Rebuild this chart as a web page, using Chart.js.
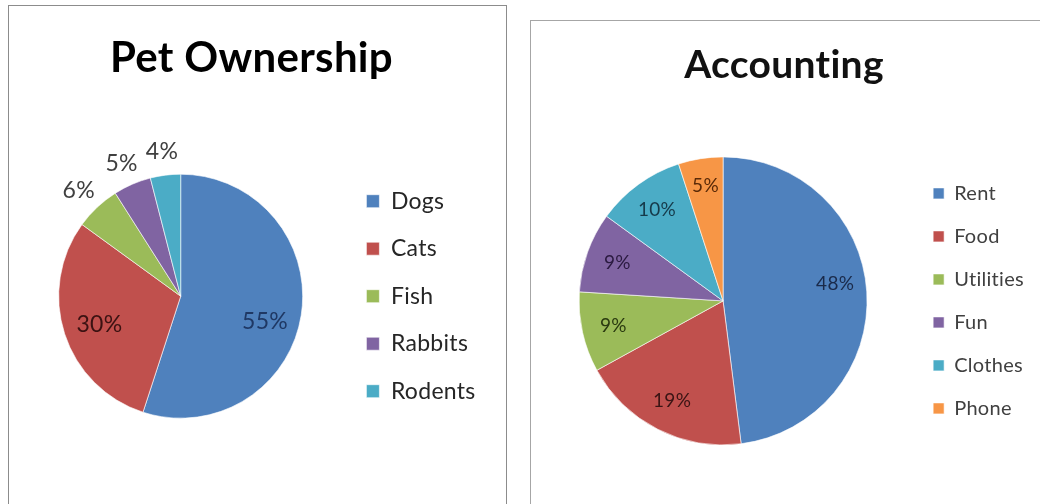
<!DOCTYPE html>
<html>
<head>
<meta charset="utf-8">
<script src="https://cdn.jsdelivr.net/npm/chart.js@4.4.1/dist/chart.umd.min.js"></script>
<style>
  body { margin: 0; width: 1040px; height: 504px; overflow: hidden; background: #fff; }
  .panel { position: absolute; border: 1px solid #8c8c8c; background: #fff; }
  #petPanel { left: 8px; top: 5px; width: 497px; height: 520px; }
  #accPanel { left: 530px; top: 20px; width: 540px; height: 520px; border-color: #a6a6a6; }
  canvas { position: absolute; left: 0; top: 0; }
</style>
</head>
<body>
<div class="panel" id="petPanel"><canvas id="petChart" width="496" height="498"></canvas></div>
<div class="panel" id="accPanel"><canvas id="accChart" width="509" height="483"></canvas></div>
<script>
// Pet Ownership
const petLabels = ['Dogs', 'Cats', 'Fish', 'Rabbits', 'Rodents'];
const petValues = [55, 30, 6, 5, 4];

// Accounting
const accLabels = ['Rent', 'Food', 'Utilities', 'Fun', 'Clothes', 'Phone'];
const accValues = [48, 19, 9, 9, 10, 5];

const OFFICE = {
    blue: '#4f81bd',
    red: '#c0504d',
    green: '#9bbb59',
    purple: '#8064a2',
    aqua: '#4bacc6',
    orange: '#f79646'
};

// tiny letter spacing keeps Lato from joining "ti" into a ligature
const noLigatures = {
    id: 'noLigatures',
    beforeInit(chart) { chart.ctx.letterSpacing = '0.3px'; },
    beforeDraw(chart) { chart.ctx.letterSpacing = '0.3px'; }
};

// draws the "NN%" labels, small slices go outside the pie
const pctLabels = {
    id: 'pctLabels',
    afterDatasetsDraw(chart, args, opts) {
        const ctx = chart.ctx;
        const values = chart.data.datasets[0].data;
        chart.getDatasetMeta(0).data.forEach((arc, i) => {
            const p = arc.getProps(['x', 'y', 'startAngle', 'endAngle', 'outerRadius'], true);
            const mid = (p.startAngle + p.endAngle) / 2;
            const outside = values[i] < opts.outsideBelow;
            const r = p.outerRadius * (outside ? opts.outerFactor : opts.innerFactor);
            ctx.save();
            ctx.font = opts.fontSize + 'px Lato';
            ctx.fillStyle = outside ? opts.outerColor : opts.colors[i];
            ctx.textAlign = 'center';
            ctx.textBaseline = 'middle';
            ctx.fillText(values[i] + '%', p.x + Math.cos(mid) * r, p.y + Math.sin(mid) * r + (opts.nudgeY[i] || 0));
            ctx.restore();
        });
    }
};

new Chart(document.getElementById('petChart'), {
    type: 'pie',
    data: {
        labels: petLabels,
        datasets: [{
            data: petValues,
            backgroundColor: [OFFICE.blue, OFFICE.red, OFFICE.green, OFFICE.purple, OFFICE.aqua],
            borderColor: 'rgba(255,255,255,0.6)',
            borderWidth: 1
        }]
    },
    options: {
        responsive: false,
        animation: false,
        radius: 122,
        layout: { padding: { left: 10.5, right: 21.5 } },
        plugins: {
            title: {
                display: true,
                text: 'Pet Ownership',
                color: '#000',
                font: { family: 'Lato', size: 42, weight: 'bold' },
                padding: { top: 27, bottom: 5 }
            },
            legend: {
                position: 'right',
                fullSize: false,
                labels: {
                    color: '#262626',
                    font: { family: 'Lato', size: 23 },
                    boxWidth: 13,
                    boxHeight: 13,
                    padding: 24.5
                }
            },
            tooltip: { enabled: false },
            pctLabels: {
                fontSize: 23,
                outsideBelow: 10,
                innerFactor: 0.7,
                outerFactor: 1.22,
                outerColor: '#404040',
                colors: ['#1f3864', '#3b1212'],
                nudgeY: [12, 2, 3, 4, 3]
            }
        }
    },
    plugins: [noLigatures, pctLabels]
});

new Chart(document.getElementById('accChart'), {
    type: 'pie',
    data: {
        labels: accLabels,
        datasets: [{
            data: accValues,
            backgroundColor: [OFFICE.blue, OFFICE.red, OFFICE.green, OFFICE.purple, OFFICE.aqua, OFFICE.orange],
            borderColor: 'rgba(255,255,255,0.6)',
            borderWidth: 1
        }]
    },
    options: {
        responsive: false,
        animation: false,
        radius: 144,
        layout: { padding: { left: 5, right: 8 } },
        plugins: {
            title: {
                display: true,
                text: 'Accounting',
                color: '#111',
                font: { family: 'Lato', size: 39, weight: 'bold' },
                padding: { top: 21, bottom: 9 }
            },
            legend: {
                position: 'right',
                fullSize: false,
                labels: {
                    color: '#404040',
                    font: { family: 'Lato', size: 20 },
                    boxWidth: 11,
                    boxHeight: 11,
                    padding: 23
                }
            },
            tooltip: { enabled: false },
            pctLabels: {
                fontSize: 19,
                outsideBelow: 0,
                innerFactor: 0.78,
                outerFactor: 1.2,
                outerColor: '#404040',
                colors: ['#1a2a4a', '#3a1414', '#2a3a10', '#2a1a40', '#163a4a', '#5a2a08'],
                nudgeY: [-10, 0, 0, 0, 0, -4]
            }
        }
    },
    plugins: [noLigatures, pctLabels]
});
</script>
</body>
</html>
